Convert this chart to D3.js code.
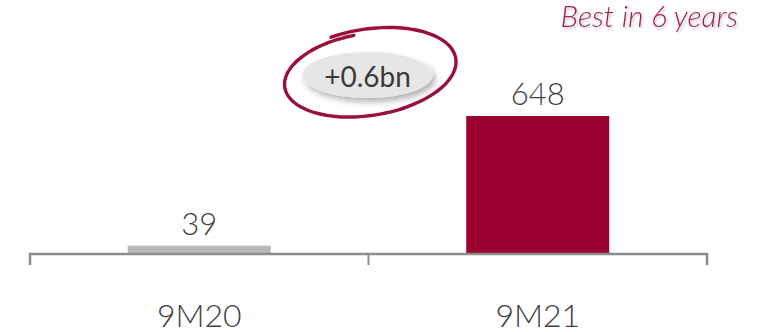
<!DOCTYPE html>
<html><head><meta charset="utf-8">
<script src="https://cdn.jsdelivr.net/npm/d3@7"></script>
<style>
html,body{margin:0;padding:0;background:#fff;}
svg{display:block;font-family:Lato,"Open Sans",sans-serif;}
</style></head>
<body>
<svg id="c" width="769" height="332"></svg>
<script>
const categories = ["9M20", "9M21"];
const values = [39, 648];
const barColors = ["#b8b8b8", "#9a0330"];
const deltaLabel = "+0.6bn";
const headline = "Best in 6 years";

const svg = d3.select("#c");
const defs = svg.append("defs");
const f1 = defs.append("filter").attr("id","sh").attr("x","-30%").attr("y","-30%").attr("width","160%").attr("height","180%");
f1.append("feDropShadow").attr("dx",3).attr("dy",4).attr("stdDeviation",3).attr("flood-color","#000").attr("flood-opacity",0.3);
const f2 = defs.append("filter").attr("id","tsh").attr("x","-10%").attr("y","-20%").attr("width","120%").attr("height","160%");
f2.append("feDropShadow").attr("dx",1.5).attr("dy",2).attr("stdDeviation",1.2).attr("flood-color","#000").attr("flood-opacity",0.22);

const x = d3.scaleBand().domain(categories).range([30, 707]).padding(0);
const y = d3.scaleLinear().domain([0, 648]).range([254, 116]);
const barFrac = 0.4225;

// bars
svg.selectAll("rect.bar").data(values).join("rect")
  .attr("class","bar")
  .attr("x",(d,i)=>x(categories[i]) + x.bandwidth()*(1-barFrac)/2)
  .attr("width", x.bandwidth()*barFrac)
  .attr("y", d=>y(d))
  .attr("height", d=>y(0)-y(d))
  .attr("fill",(d,i)=>barColors[i]);

// axis
const axis = d3.axisBottom(x).tickSize(11).tickFormat("");
const gA = svg.append("g").attr("transform",`translate(0,${y(0)})`).call(axis);
gA.select(".domain").attr("stroke","#8c8c8c").attr("stroke-width",2.5).attr("d",`M30,11V0H707V11`);
gA.selectAll(".tick").remove();
gA.selectAll("line.edge").data([x(categories[1])]).join("line")
  .attr("class","edge").attr("x1",d=>d).attr("x2",d=>d).attr("y1",0).attr("y2",11)
  .attr("stroke","#8c8c8c").attr("stroke-width",2);

// category labels
svg.selectAll("text.cat").data(categories).join("text")
  .attr("class","cat")
  .attr("x",d=>x(d)+x.bandwidth()/2)
  .attr("y",327)
  .attr("text-anchor","middle")
  .attr("font-size",32).attr("font-weight",300).attr("fill","#404040")
  .text(d=>d);

// value labels
svg.selectAll("text.val").data(values).join("text")
  .attr("class","val")
  .attr("x",(d,i)=>x(categories[i])+x.bandwidth()/2)
  .attr("y",d=>y(d)-11)
  .attr("text-anchor","middle")
  .attr("font-size",31).attr("font-weight",300).attr("fill","#404040")
  .text(d=>d);

// delta pill
const cx = (x(categories[0]) + x.bandwidth() + x(categories[1]))/2 - 1;
svg.append("ellipse").attr("cx",cx).attr("cy",75).attr("rx",65).attr("ry",23)
  .attr("fill","#e6e6e6").attr("filter","url(#sh)");
svg.append("text").attr("x",cx).attr("y",87).attr("text-anchor","middle")
  .attr("font-size",28).attr("font-weight",400).attr("fill","#3a3a3a").text(deltaLabel);

// hand-drawn ring
const a0 = -Math.PI/2 - 0.35;
const rot = -0.16;
const ringPts = d3.range(0, 1.001, 0.01).map(t=>{
  const a = a0 + t*2*Math.PI*1.04;
  const s = 1.02 - 0.1*t*t;
  const ex = 88*s*Math.cos(a), ey = 43*s*Math.sin(a);
  return [368 + ex*Math.cos(rot) - ey*Math.sin(rot), 73 + ex*Math.sin(rot) + ey*Math.cos(rot)];
});
svg.append("path").attr("d", d3.line().curve(d3.curveBasis)(ringPts))
  .attr("fill","none").attr("stroke","#9a1038").attr("stroke-width",3.4).attr("stroke-linecap","round");

// headline
svg.append("text").attr("x",738).attr("y",27).attr("text-anchor","end")
  .attr("font-size",30).attr("font-style","italic").attr("font-weight",300)
  .attr("fill","#a3234f").attr("filter","url(#tsh)").text(headline);
</script>
</body></html>
